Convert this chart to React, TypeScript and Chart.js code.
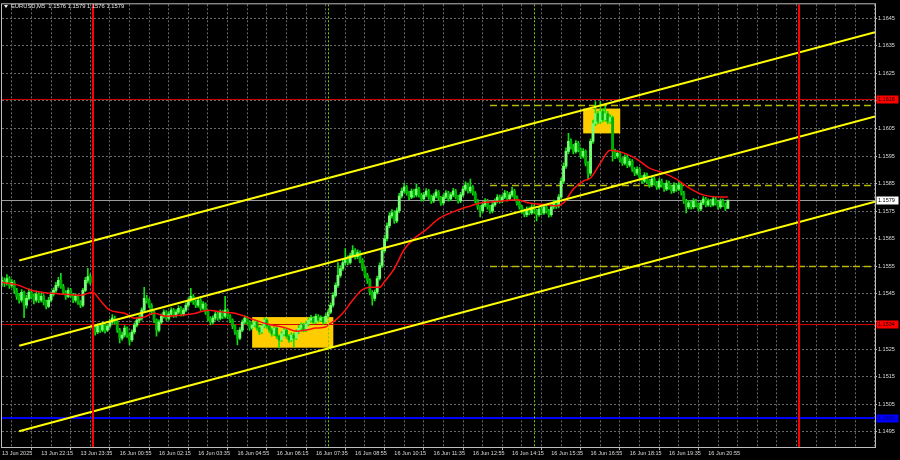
import React, { useEffect, useRef } from "react";
import { Chart, registerables } from "chart.js";
Chart.register(...registerables);

// ---------- data (EURUSD M5, bar index 0 = 13 Jun 20:55) ----------
const firstOpen = 1.1549;
const gapIndex = 37;
const gapOpen = 1.15337;

const closes = [
  1.15499,1.15488,1.15506,1.15481,1.15492,1.15463,1.15441,1.15427,1.15456,1.15409,
  1.15434,1.15456,1.15441,1.15427,1.15449,1.15427,1.15441,1.15420,1.15405,1.15427,
  1.15449,1.15463,1.15481,1.15499,1.15477,1.15456,1.15441,1.15463,1.15445,1.15427,
  1.15441,1.15420,1.15409,1.15463,1.15499,1.15513,1.15492,1.15326,1.15312,1.15333,
  1.15319,1.15337,1.15319,1.15333,1.15348,1.15362,1.15348,1.15319,1.15290,1.15301,
  1.15326,1.15301,1.15283,1.15312,1.15337,1.15355,1.15362,1.15391,1.15434,1.15427,
  1.15409,1.15384,1.15355,1.15319,1.15348,1.15369,1.15384,1.15362,1.15377,1.15391,
  1.15373,1.15384,1.15398,1.15377,1.15391,1.15409,1.15427,1.15441,1.15420,1.15409,
  1.15427,1.15398,1.15413,1.15384,1.15362,1.15348,1.15362,1.15377,1.15362,1.15384,
  1.15369,1.15391,1.15369,1.15355,1.15333,1.15312,1.15290,1.15319,1.15348,1.15362,
  1.15348,1.15326,1.15337,1.15348,1.15326,1.15312,1.15333,1.15355,1.15333,1.15319,
  1.15305,1.15326,1.15297,1.15283,1.15305,1.15319,1.15297,1.15283,1.15301,1.15290,
  1.15312,1.15326,1.15337,1.15319,1.15341,1.15355,1.15362,1.15348,1.15369,1.15355,
  1.15362,1.15348,1.15369,1.15384,1.15409,1.15445,1.15481,1.15517,1.15542,1.15564,
  1.15578,1.15564,1.15589,1.15607,1.15585,1.15600,1.15571,1.15542,1.15517,1.15499,
  1.15456,1.15434,1.15456,1.15506,1.15553,1.15607,1.15650,1.15697,1.15733,1.15744,
  1.15715,1.15751,1.15805,1.15823,1.15837,1.15816,1.15801,1.15823,1.15809,1.15830,
  1.15809,1.15794,1.15809,1.15823,1.15801,1.15787,1.15805,1.15819,1.15798,1.15780,
  1.15801,1.15816,1.15794,1.15809,1.15823,1.15801,1.15787,1.15809,1.15830,1.15845,
  1.15823,1.15837,1.15816,1.15787,1.15765,1.15751,1.15773,1.15787,1.15765,1.15751,
  1.15773,1.15787,1.15801,1.15787,1.15801,1.15816,1.15794,1.15809,1.15823,1.15801,
  1.15780,1.15765,1.15751,1.15737,1.15758,1.15744,1.15765,1.15751,1.15737,1.15758,
  1.15744,1.15765,1.15751,1.15737,1.15765,1.15780,1.15769,1.15801,1.15859,1.15913,
  1.15967,1.16003,1.15985,1.15967,1.15996,1.15974,1.15949,1.15967,1.15924,1.15888,
  1.16003,1.16068,1.16104,1.16075,1.16111,1.16082,1.16104,1.16075,1.16089,1.15967,
  1.15949,1.15960,1.15938,1.15924,1.15945,1.15917,1.15931,1.15902,1.15888,1.15902,
  1.15873,1.15859,1.15881,1.15859,1.15845,1.15866,1.15852,1.15837,1.15859,1.15845,
  1.15830,1.15852,1.15837,1.15823,1.15845,1.15830,1.15845,1.15816,1.15787,1.15765,
  1.15780,1.15765,1.15787,1.15773,1.15758,1.15780,1.15794,1.15773,1.15787,1.15773,
  1.15794,1.15780,1.15765,1.15787,1.15773,1.15760,1.15790,
];

const highs = [
  1.15512,1.15508,1.15520,1.15513,1.15502,1.15498,1.15470,1.15452,1.15466,1.15460,
  1.15445,1.15468,1.15463,1.15450,1.15460,1.15455,1.15452,1.15448,1.15428,1.15438,
  1.15458,1.15472,1.15492,1.15510,1.15525,1.15485,1.15462,1.15472,1.15470,1.15452,
  1.15450,1.15447,1.15426,1.15470,1.15510,1.15543,1.15522,1.15352,1.15333,1.15342,
  1.15340,1.15348,1.15344,1.15341,1.15358,1.15375,1.15370,1.15353,1.15325,1.15312,
  1.15335,1.15331,1.15308,1.15320,1.15345,1.15364,1.15372,1.15400,1.15474,1.15445,
  1.15433,1.15415,1.15390,1.15360,1.15356,1.15378,1.15392,1.15390,1.15386,1.15400,
  1.15398,1.15393,1.15408,1.15404,1.15399,1.15418,1.15436,1.15470,1.15448,1.15428,
  1.15436,1.15433,1.15422,1.15418,1.15390,1.15368,1.15371,1.15385,1.15384,1.15392,
  1.15390,1.15441,1.15396,1.15375,1.15360,1.15338,1.15318,1.15328,1.15356,1.15371,
  1.15369,1.15353,1.15346,1.15356,1.15354,1.15331,1.15341,1.15364,1.15360,1.15338,
  1.15326,1.15334,1.15331,1.15302,1.15313,1.15327,1.15325,1.15303,1.15309,1.15308,
  1.15320,1.15335,1.15345,1.15343,1.15350,1.15363,1.15372,1.15368,1.15377,1.15375,
  1.15371,1.15367,1.15378,1.15392,1.15418,1.15455,1.15490,1.15564,1.15553,1.15575,
  1.15614,1.15588,1.15598,1.15625,1.15614,1.15610,1.15606,1.15578,1.15549,1.15525,
  1.15505,1.15462,1.15465,1.15515,1.15563,1.15618,1.15662,1.15708,1.15745,1.15756,
  1.15752,1.15762,1.15815,1.15834,1.15852,1.15844,1.15822,1.15831,1.15829,1.15848,
  1.15836,1.15815,1.15818,1.15832,1.15829,1.15808,1.15814,1.15828,1.15825,1.15804,
  1.15810,1.15825,1.15822,1.15817,1.15833,1.15829,1.15807,1.15818,1.15840,1.15856,
  1.15852,1.15866,1.15843,1.15821,1.15792,1.15770,1.15781,1.15796,1.15793,1.15771,
  1.15782,1.15795,1.15810,1.15808,1.15809,1.15826,1.15822,1.15818,1.15837,1.15829,
  1.15806,1.15787,1.15771,1.15758,1.15766,1.15765,1.15774,1.15772,1.15757,1.15767,
  1.15764,1.15773,1.15771,1.15757,1.15774,1.15790,1.15788,1.15810,1.15870,1.15925,
  1.15980,1.16032,1.16012,1.15992,1.16006,1.16003,1.15980,1.15977,1.15972,1.15930,
  1.16012,1.16080,1.16147,1.16112,1.16147,1.16120,1.16130,1.16112,1.16100,1.16095,
  1.15975,1.15970,1.15966,1.15944,1.15954,1.15952,1.15940,1.15937,1.15908,1.15911,
  1.15908,1.15879,1.15890,1.15888,1.15865,1.15875,1.15873,1.15858,1.15868,1.15866,
  1.15851,1.15862,1.15859,1.15843,1.15854,1.15851,1.15858,1.15851,1.15822,1.15793,
  1.15789,1.15786,1.15796,1.15793,1.15779,1.15788,1.15803,1.15800,1.15795,1.15793,
  1.15802,1.15800,1.15786,1.15795,1.15794,1.15780,1.15790,
];

const lows = [
  1.15478,1.15476,1.15482,1.15470,1.15474,1.15452,1.15430,1.15416,1.15420,1.15364,
  1.15398,1.15428,1.15432,1.15414,1.15420,1.15418,1.15420,1.15410,1.15396,1.15400,
  1.15421,1.15442,1.15455,1.15474,1.15470,1.15448,1.15430,1.15436,1.15438,1.15418,
  1.15420,1.15412,1.15400,1.15404,1.15458,1.15490,1.15484,1.15312,1.15300,1.15306,
  1.15310,1.15312,1.15308,1.15313,1.15326,1.15340,1.15340,1.15310,1.15272,1.15282,
  1.15294,1.15292,1.15265,1.15277,1.15305,1.15330,1.15346,1.15355,1.15384,1.15416,
  1.15400,1.15375,1.15346,1.15297,1.15312,1.15342,1.15362,1.15354,1.15355,1.15370,
  1.15365,1.15366,1.15378,1.15369,1.15370,1.15385,1.15402,1.15420,1.15412,1.15400,
  1.15402,1.15390,1.15392,1.15376,1.15352,1.15338,1.15341,1.15355,1.15354,1.15356,
  1.15360,1.15362,1.15360,1.15346,1.15324,1.15303,1.15265,1.15284,1.15313,1.15341,
  1.15339,1.15318,1.15320,1.15330,1.15318,1.15302,1.15306,1.15327,1.15325,1.15310,
  1.15296,1.15299,1.15288,1.15254,1.15277,1.15298,1.15289,1.15274,1.15277,1.15258,
  1.15284,1.15306,1.15320,1.15312,1.15313,1.15334,1.15348,1.15341,1.15342,1.15348,
  1.15349,1.15340,1.15343,1.15362,1.15378,1.15402,1.15438,1.15474,1.15510,1.15535,
  1.15556,1.15555,1.15558,1.15582,1.15576,1.15578,1.15562,1.15534,1.15508,1.15488,
  1.15446,1.15409,1.15425,1.15450,1.15500,1.15546,1.15600,1.15642,1.15690,1.15725,
  1.15706,1.15708,1.15745,1.15798,1.15816,1.15808,1.15792,1.15795,1.15800,1.15802,
  1.15801,1.15786,1.15788,1.15803,1.15793,1.15778,1.15781,1.15798,1.15790,1.15771,
  1.15774,1.15795,1.15786,1.15788,1.15803,1.15794,1.15779,1.15781,1.15803,1.15823,
  1.15815,1.15816,1.15808,1.15779,1.15756,1.15729,1.15745,1.15766,1.15757,1.15742,
  1.15744,1.15767,1.15780,1.15779,1.15781,1.15795,1.15786,1.15788,1.15802,1.15793,
  1.15772,1.15757,1.15742,1.15729,1.15730,1.15736,1.15738,1.15743,1.15715,1.15731,
  1.15736,1.15738,1.15743,1.15728,1.15731,1.15758,1.15760,1.15762,1.15795,1.15850,
  1.15905,1.15958,1.15975,1.15958,1.15960,1.15965,1.15940,1.15942,1.15914,1.15866,
  1.15880,1.15996,1.16060,1.16066,1.16068,1.16074,1.16076,1.16066,1.16068,1.15931,
  1.15940,1.15942,1.15928,1.15916,1.15918,1.15908,1.15910,1.15894,1.15879,1.15881,
  1.15864,1.15850,1.15853,1.15851,1.15836,1.15839,1.15844,1.15829,1.15831,1.15837,
  1.15822,1.15824,1.15829,1.15814,1.15817,1.15822,1.15824,1.15808,1.15778,1.15744,
  1.15758,1.15757,1.15759,1.15765,1.15750,1.15752,1.15774,1.15765,1.15767,1.15765,
  1.15768,1.15772,1.15757,1.15760,1.15766,1.15752,1.15760,
];

// moving average (red line), read at these bar indices
const maIndex = [
  0,7,12,20,26,32,35,37,40,44,50,54,58,62,67,73,79,84,90,95,
  101,107,116,120,124,128,132,134,136,140,142,144,146,148,151,154,156,160,164,168,
  173,178,185,191,195,199,204,210,215,222,226,229,233,237,240,244,248,251,255,259,
  264,270,275,281,286,294,296,
];
const maValues = [
  1.15492,1.15481,1.15463,1.15452,1.15449,1.15445,1.15452,1.15456,1.15427,1.15391,
  1.15380,1.15362,1.15366,1.15380,1.15369,1.15373,1.15380,1.15391,1.15384,1.15380,
  1.15362,1.15344,1.15326,1.15315,1.15319,1.15326,1.15330,1.15344,1.15355,1.15391,
  1.15416,1.15438,1.15459,1.15470,1.15474,1.15474,1.15495,1.15542,1.15611,1.15650,
  1.15683,1.15722,1.15751,1.15769,1.15780,1.15783,1.15787,1.15791,1.15780,1.15773,
  1.15769,1.15780,1.15830,1.15859,1.15870,1.15924,1.15971,1.15967,1.15956,1.15938,
  1.15906,1.15888,1.15866,1.15830,1.15809,1.15801,1.15801,
];

// time axis labels, one every 16 bars
const timeLabels = [
  "13 Jun 2025", "13 Jun 22:15", "13 Jun 23:35", "16 Jun 00:55", "16 Jun 02:15",
  "16 Jun 03:35", "16 Jun 04:55", "16 Jun 06:15", "16 Jun 07:35", "16 Jun 08:55",
  "16 Jun 10:15", "16 Jun 11:35", "16 Jun 12:55", "16 Jun 14:15", "16 Jun 15:35",
  "16 Jun 16:55", "16 Jun 18:15", "16 Jun 19:35", "16 Jun 20:55",
];
const priceTicks = [
  1.1495, 1.1505, 1.1515, 1.1525, 1.1535, 1.1545, 1.1555, 1.1565,
  1.1575, 1.1585, 1.1595, 1.1605, 1.1615, 1.1625, 1.1635, 1.1645,
];
const hiddenPriceTicks = [1.1615, 1.1535];

// channel (yellow) lines: start / end bar, prices
const channelBars = [7, 356];
const channelUpper = [1.15571, 1.16399];
const channelMiddle = [1.15262, 1.16093];
const channelLower = [1.14952, 1.15784];

// yellow rectangles
const boxStart = [102, 237];
const boxEnd = [135.1, 252.1];
const boxTop = [1.15366, 1.16122];
const boxBottom = [1.15255, 1.16032];

// horizontal levels
const redLevels = [1.16155, 1.1534];
const redLabels = ["1.1616", "1.1534"];
const blueLevel = 1.15;
const blueLabel = "1.1500";
const bidPrice = 1.1579;
const bidLabel = "1.1579";
const dashedLevels = [1.16136, 1.15845, 1.15553];
const dashedStartBar = 199;

// vertical lines
const dayLines = [37, 325];
const sessionLines = [133, 217];

const titleText = "EURUSD,M5  1.1576 1.1579 1.1576 1.1579";

// ---------- style ----------
const X_MAX = 356;
const FONT = '"Liberation Sans", Arial, sans-serif';
const TEXT = "#dcdcdc";
const GRID = "#6a6a6a";
const BULL = "#74ff74";
const BEAR = "#00b000";
const WICK = "#10e010";

const opens = closes.map((c, i) =>
  i === 0 ? firstOpen : i === gapIndex ? gapOpen : closes[i - 1]
);
const gridBars = Array.from({ length: Math.floor(X_MAX / 8) + 1 }, (_, k) => k * 8);
const labelForBar = (v: number) => {
  if (v % 16 !== 0) return "";
  const k = v / 16;
  return timeLabels[k] ?? "";
};

const overlayPlugin = {
  id: "mtOverlay",
  beforeDatasetsDraw(chart: any) {
    const { ctx, chartArea: a, scales } = chart;
    const xs = scales.x;
    const ys = scales.y;
    ctx.save();
    ctx.beginPath();
    ctx.rect(a.left, a.top, a.right - a.left, a.bottom - a.top);
    ctx.clip();
    ctx.fillStyle = "#ffcc00";
    for (let k = 0; k < boxStart.length; k++) {
      const x0 = xs.getPixelForValue(boxStart[k]);
      const x1 = xs.getPixelForValue(boxEnd[k]);
      const y0 = ys.getPixelForValue(boxTop[k]);
      const y1 = ys.getPixelForValue(boxBottom[k]);
      ctx.fillRect(x0, y0, x1 - x0, y1 - y0);
    }
    const hline = (p: number, color: string, w: number, x0 = a.left, dash: number[] = []) => {
      const y = Math.round(ys.getPixelForValue(p)) + (w % 2 ? 0.5 : 0);
      ctx.strokeStyle = color;
      ctx.lineWidth = w;
      ctx.setLineDash(dash);
      ctx.beginPath();
      ctx.moveTo(x0, y);
      ctx.lineTo(a.right, y);
      ctx.stroke();
    };
    hline(bidPrice, "#9a9a9a", 1);
    redLevels.forEach((p) => hline(p, "#d00000", 1));
    hline(blueLevel, "#0000ff", 2);
    const dx = xs.getPixelForValue(dashedStartBar);
    dashedLevels.forEach((p) => hline(p, "#b8b800", 1.5, dx, [7, 4]));
    ctx.restore();
  },
  afterDatasetsDraw(chart: any) {
    const { ctx, chartArea: a, scales } = chart;
    const xs = scales.x;
    ctx.save();
    ctx.beginPath();
    ctx.rect(a.left, a.top, a.right - a.left, a.bottom - a.top);
    ctx.clip();
    const vline = (bar: number, color: string, w: number, dash: number[]) => {
      const x = Math.round(xs.getPixelForValue(bar)) + (w % 2 ? 0.5 : 0);
      ctx.strokeStyle = color;
      ctx.lineWidth = w;
      ctx.setLineDash(dash);
      ctx.beginPath();
      ctx.moveTo(x, a.top);
      ctx.lineTo(x, a.bottom);
      ctx.stroke();
    };
    sessionLines.forEach((b) => vline(b, "#6fd000", 1, [2, 2]));
    dayLines.forEach((b) => vline(b, "#ff0000", 2, []));
    ctx.restore();
  },
  afterDraw(chart: any) {
    const { ctx, chartArea: a, scales } = chart;
    const ys = scales.y;
    ctx.save();
    ctx.strokeStyle = "#bdbdbd";
    ctx.lineWidth = 1;
    ctx.setLineDash([]);
    ctx.strokeRect(a.left - 0.5, a.top - 0.5, a.right - a.left + 1, a.bottom - a.top + 1);
    ctx.font = `5.5px ${FONT}`;
    ctx.textBaseline = "middle";
    ctx.textAlign = "left";
    const tag = (p: number, text: string, bg: string, fg: string) => {
      const y = ys.getPixelForValue(p);
      ctx.fillStyle = bg;
      ctx.fillRect(a.right + 1.5, Math.round(y) - 3.5, 22, 8);
      ctx.fillStyle = fg;
      ctx.fillText(text, a.right + 3, Math.round(y) + 0.5);
    };
    redLevels.forEach((p, k) => tag(p, redLabels[k], "#ff0000", "#1a0000"));
    tag(bidPrice, bidLabel, "#ffffff", "#000000");
    tag(blueLevel, blueLabel, "#0000ff", "#000060");
    ctx.fillStyle = "#f0f0f0";
    ctx.beginPath();
    ctx.moveTo(4, 5);
    ctx.lineTo(8, 5);
    ctx.lineTo(6, 8);
    ctx.closePath();
    ctx.fill();
    ctx.fillStyle = "#e8e8e8";
    ctx.font = `5.8px ${FONT}`;
    ctx.fillText(titleText, 11, 6.5);
    ctx.restore();
  },
};

export default function App() {
  const ref = useRef<HTMLCanvasElement>(null);
  useEffect(() => {
    const bodyData = closes.map((c, i) => ({ x: i, y: [opens[i], c] }));
    const wickData = closes.map((_, i) => ({ x: i, y: [lows[i], highs[i]] }));
    const bodyColors = closes.map((c, i) => (c >= opens[i] ? BULL : BEAR));
    const maData = maIndex.map((x, k) => ({ x, y: maValues[k] }));
    const chLine = (vals: number[]) => channelBars.map((x, k) => ({ x, y: vals[k] }));
    const lineDs = (data: any[], color: string, w: number, order: number) => ({
      type: "line",
      data,
      borderColor: color,
      borderWidth: w,
      pointRadius: 0,
      fill: false,
      order,
    });

    const chart = new Chart(ref.current as HTMLCanvasElement, {
      type: "bar",
      data: {
        datasets: [
          lineDs(chLine(channelUpper), "#ffff00", 2, 0),
          lineDs(chLine(channelMiddle), "#ffff00", 2, 0),
          lineDs(chLine(channelLower), "#ffff00", 2, 0),
          { ...lineDs(maData, "#ff1010", 1.5, 1), cubicInterpolationMode: "monotone" },
          {
            type: "bar",
            data: bodyData,
            backgroundColor: bodyColors,
            barThickness: 2.2,
            minBarLength: 1,
            grouped: false,
            borderWidth: 0,
            order: 2,
          },
          {
            type: "bar",
            data: wickData,
            backgroundColor: WICK,
            barThickness: 1,
            grouped: false,
            borderWidth: 0,
            order: 3,
          },
        ] as any,
      },
      options: {
        responsive: false,
        animation: false,
        events: [],
        layout: { padding: { left: 2, top: 1, right: 0, bottom: 0 } },
        plugins: { legend: { display: false }, tooltip: { enabled: false } },
        scales: {
          x: {
            type: "linear",
            min: 0,
            max: X_MAX,
            offset: false,
            afterBuildTicks: (s: any) => {
              s.ticks = gridBars.map((v) => ({ value: v }));
            },
            afterFit: (s: any) => {
              s.height = 13;
            },
            grid: {
              color: GRID,
              lineWidth: 1,
              drawTicks: true,
              tickLength: 3,
              tickColor: (c: any) =>
                c.tick && labelForBar(c.tick.value) ? "#b0b0b0" : "rgba(0,0,0,0)",
            },
            border: { display: false, dash: [2, 2] },
            ticks: {
              autoSkip: false,
              maxRotation: 0,
              minRotation: 0,
              align: "start",
              padding: 0,
              color: TEXT,
              font: { family: FONT, size: 5.5 },
              callback: (v: any) => labelForBar(Number(v)),
            },
          },
          y: {
            type: "linear",
            position: "right",
            min: 1.14895,
            max: 1.165,
            afterBuildTicks: (s: any) => {
              s.ticks = priceTicks.map((v) => ({ value: v }));
            },
            afterFit: (s: any) => {
              s.width = 25;
            },
            grid: { color: GRID, lineWidth: 1, drawTicks: true, tickLength: 2, tickColor: "#b0b0b0" },
            border: { display: false, dash: [2, 2] },
            ticks: {
              autoSkip: false,
              padding: 1,
              color: TEXT,
              font: { family: FONT, size: 5.5 },
              callback: (v: any) => {
                const n = Number(v);
                return hiddenPriceTicks.some((h) => Math.abs(h - n) < 1e-7) ? "" : n.toFixed(4);
              },
            },
          },
        },
      } as any,
      plugins: [overlayPlugin],
    });
    return () => chart.destroy();
  }, []);

  return (
    <div style={{ position: "fixed", left: 0, top: 0, width: 900, height: 460, background: "#000" }}>
      <canvas ref={ref} width={900} height={460} style={{ display: "block", width: 900, height: 460 }} />
    </div>
  );
}
